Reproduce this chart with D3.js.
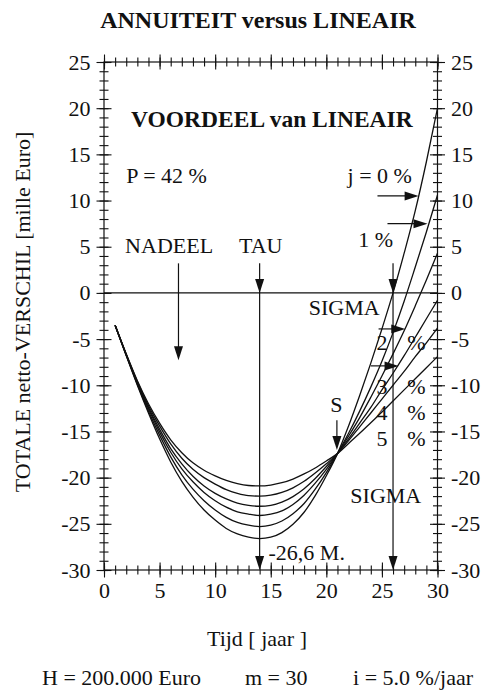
<!DOCTYPE html>
<html>
<head>
<meta charset="utf-8">
<script src="https://cdn.jsdelivr.net/npm/d3@7"></script>
<style>
  body { margin: 0; background: #fff; }
  svg text { font-family: "Liberation Serif", "DejaVu Serif", serif; fill: #111; }
</style>
</head>
<body>
<div id="chart"></div>
<script>
// tijd in jaren
const years = [1, 2, 3, 4, 5, 6, 7, 8, 9, 10, 11, 12, 13, 14, 15,
               16, 17, 18, 19, 20, 21, 22, 23, 24, 25, 26, 27, 28, 29, 30];

// totale netto-verschil [mille Euro] per inflatie j
const j0 = [-3.5, -6.8, -10.0, -13.0, -15.8, -18.3, -20.4, -22.1, -23.5, -24.6, -25.5, -26.1, -26.45, -26.6,
            -26.45, -25.95, -25.05, -23.75, -21.95, -19.8, -17.4,
            -14.4, -11.1, -7.6, -3.9, 0.0, 4.3, 8.9, 14.2, 20.0];
const j1 = [-3.5, -6.75, -9.9, -12.8, -15.4, -17.75, -19.7, -21.25, -22.5, -23.5, -24.3, -24.85, -25.15, -25.3,
            -25.15, -24.7, -23.9, -22.8, -21.25, -19.45, -17.4,
            -15.2, -12.8, -10.2, -7.4, -4.3, -0.9, 2.8, 6.6, 10.6];
const j2 = [-3.5, -6.7, -9.8, -12.55, -15.05, -17.25, -19.05, -20.45, -21.6, -22.5, -23.2, -23.7, -23.95, -24.1,
            -23.95, -23.6, -22.9, -21.9, -20.6, -19.1, -17.4,
            -15.5, -13.5, -11.3, -9.0, -6.6, -4.1, -1.4, 1.4, 4.3];
const j3 = [-3.5, -6.7, -9.7, -12.4, -14.75, -16.85, -18.5, -19.85, -20.9, -21.7, -22.3, -22.75, -23.0, -23.1,
            -23.0, -22.65, -22.05, -21.2, -20.1, -18.8, -17.4,
            -15.8, -14.1, -12.4, -10.5, -8.7, -6.8, -4.8, -2.8, -0.8];
const j4 = [-3.5, -6.65, -9.6, -12.2, -14.4, -16.35, -17.9, -19.1, -20.0, -20.7, -21.3, -21.7, -21.95, -22.0,
            -21.9, -21.6, -21.1, -20.4, -19.5, -18.5, -17.4,
            -16.0, -14.5, -13.0, -11.5, -10.0, -8.5, -6.9, -5.4, -3.8];
const j5 = [-3.5, -6.6, -9.5, -12.0, -14.1, -15.9, -17.3, -18.4, -19.2, -19.8, -20.3, -20.65, -20.85, -20.9,
            -20.8, -20.55, -20.15, -19.6, -18.95, -18.2, -17.4,
            -16.3, -15.2, -14.05, -12.9, -11.7, -10.5, -9.3, -8.1, -6.9];
const series = [j0, j1, j2, j3, j4, j5];

// as-indeling
const xTicks = [0, 5, 10, 15, 20, 25, 30];
const yTicks = [-30, -25, -20, -15, -10, -5, 0, 5, 10, 15, 20, 25];
const xTickLabels = ["0", "5", "10", "15", "20", "25", "30"];
const yTickLabels = ["-30", "-25", "-20", "-15", "-10", "-5", "0", "5", "10", "15", "20", "25"];

// pijlen (in data-eenheden)
const vArrows = [
  { x: 6.7, from: 3.2, to: -7.3, heads: [-7.3] },     // NADEEL
  { x: 14.0, from: 3.2, to: -30, heads: [0, -30] },   // TAU
  { x: 26.0, from: 3.2, to: -30, heads: [0, -30] },   // SIGMA
  { x: 20.95, from: -13.8, to: -17.0, heads: [-17.0] } // S
];
const hArrows = [
  { y: 10.5, from: 24.6, to: 28.3 },  // j = 0 %
  { y: 7.5, from: 25.5, to: 29.1 },   // 1 %
  { y: -3.9, from: 24.7, to: 27.1 },  // 2 %
  { y: -7.9, from: 24.0, to: 26.5 }   // 3 %
];

// teksten in het grafiekvlak
const notes = [
  { t: "VOORDEEL van LINEAIR", x: 15.1, y: 18.0, anchor: "middle", bold: true },
  { t: "P = 42 %", x: 2.0, y: 11.9, anchor: "start" },
  { t: "j = 0 %", x: 27.7, y: 11.9, anchor: "end" },
  { t: "1 %", x: 26.0, y: 5.0, anchor: "end" },
  { t: "NADEEL", x: 1.9, y: 4.3, anchor: "start" },
  { t: "TAU", x: 14.1, y: 4.3, anchor: "middle" },
  { t: "SIGMA", x: 24.8, y: -2.4, anchor: "end" },
  { t: "S", x: 20.9, y: -12.9, anchor: "middle" },
  { t: "SIGMA", x: 25.35, y: -22.8, anchor: "middle" },
  { t: "-26,6 M.", x: 14.8, y: -28.9, anchor: "start" }
];
const pctDigits = ["2", "3", "4", "5"];
const pctY = [-6.2, -10.9, -13.8, -16.6];

const W = 485, H = 691;
const svg = d3.select("#chart").append("svg")
    .attr("width", W)
    .attr("height", H);

const x = d3.scaleLinear().domain([0, 30]).range([104, 437.5]);
const y = d3.scaleLinear().domain([-30, 25]).range([570, 62]);

const ink = "#111";
const fs = 22;

// titel
svg.append("text")
    .attr("x", 258).attr("y", 28)
    .attr("text-anchor", "middle")
    .attr("font-weight", "bold")
    .attr("font-size", 24)
    .text("ANNUITEIT versus LINEAIR");

// kader
svg.append("rect")
    .attr("x", x(0)).attr("y", y(25))
    .attr("width", x(30) - x(0))
    .attr("height", y(-30) - y(25))
    .attr("fill", "none")
    .attr("stroke", ink)
    .attr("stroke-width", 1.2);

// assen: ticks lopen door de aslijn heen
function tickAxis(gen, values, size, tx, ty, labels, pad) {
  const g = svg.append("g")
      .attr("transform", `translate(${tx},${ty})`)
      .call(gen.tickValues(values).tickSize(size).tickPadding(pad || 3)
          .tickFormat(labels ? (d, i) => labels[i] : ""));
  g.select(".domain").remove();
  g.selectAll("line").attr("stroke", ink).attr("stroke-width", 1.1);
  g.selectAll("text")
      .attr("font-size", fs)
      .attr("fill", ink);
  return g;
}
const minorX = d3.range(0, 31, 1);
const minorY = d3.range(-30, 26, 1);

tickAxis(d3.axisLeft(y), minorY, 9, x(0) + 4.5, 0);
tickAxis(d3.axisLeft(y), yTicks, 15, x(0) + 7.5, 0, yTickLabels, 6);
tickAxis(d3.axisRight(y), minorY, 9, x(30) - 4.5, 0);
tickAxis(d3.axisRight(y), yTicks, 15, x(30) - 7.5, 0, yTickLabels, 6);
tickAxis(d3.axisTop(x), minorX, 9, 0, y(25) + 4.5);
tickAxis(d3.axisTop(x), xTicks, 15, 0, y(25) + 7.5);
tickAxis(d3.axisBottom(x), minorX, 9, 0, y(-30) - 4.5);
tickAxis(d3.axisBottom(x), xTicks, 15, 0, y(-30) - 7.5, xTickLabels, 5);

// nullijn
svg.append("line")
    .attr("x1", x(0)).attr("x2", x(30))
    .attr("y1", y(0)).attr("y2", y(0))
    .attr("stroke", ink).attr("stroke-width", 1.2);

// curves
const line = d3.line()
    .x((d, i) => x(years[i]))
    .y(d => y(d))
    .curve(d3.curveMonotoneX);

svg.selectAll("path.curve")
    .data(series)
    .enter()
    .append("path")
    .attr("class", "curve")
    .attr("d", line)
    .attr("fill", "none")
    .attr("stroke", ink)
    .attr("stroke-width", 1.3);

// pijlpunten
function head(px, py, dx, dy) {
  const L = 14, w = 4.5;
  const bx = px - dx * L, by = py - dy * L;
  const nx = -dy * w, ny = dx * w;
  svg.append("path")
      .attr("d", `M${px},${py}L${bx + nx},${by + ny}L${bx - nx},${by - ny}Z`)
      .attr("fill", ink);
}

vArrows.forEach(a => {
  svg.append("line")
      .attr("x1", x(a.x)).attr("x2", x(a.x))
      .attr("y1", y(a.from)).attr("y2", y(a.to) - 4)
      .attr("stroke", ink).attr("stroke-width", 1.2);
  a.heads.forEach(h => head(x(a.x), y(h), 0, 1));
});

hArrows.forEach(a => {
  svg.append("line")
      .attr("x1", x(a.from)).attr("x2", x(a.to) - 4)
      .attr("y1", y(a.y)).attr("y2", y(a.y))
      .attr("stroke", ink).attr("stroke-width", 1.2);
  head(x(a.to), y(a.y), 1, 0);
});

// teksten
svg.selectAll("text.note")
    .data(notes)
    .enter()
    .append("text")
    .attr("class", "note")
    .attr("x", d => x(d.x))
    .attr("y", d => y(d.y))
    .attr("text-anchor", d => d.anchor)
    .attr("font-size", d => d.bold ? 23.5 : fs)
    .attr("font-weight", d => d.bold ? "bold" : "normal")
    .text(d => d.t);

pctDigits.forEach((t, i) => {
  svg.append("text")
      .attr("x", x(25.0)).attr("y", y(pctY[i]))
      .attr("text-anchor", "middle")
      .attr("font-size", fs)
      .text(t);
  svg.append("text")
      .attr("x", x(28.1)).attr("y", y(pctY[i]))
      .attr("text-anchor", "middle")
      .attr("font-size", fs)
      .text("%");
});

// as-titels
svg.append("text")
    .attr("transform", "translate(30,312) rotate(-90)")
    .attr("text-anchor", "middle")
    .attr("font-size", fs)
    .text("TOTALE netto-VERSCHIL [mille Euro]");

svg.append("text")
    .attr("x", 257).attr("y", 646)
    .attr("text-anchor", "middle")
    .attr("font-size", fs)
    .text("Tijd [ jaar ]");

// parameters
svg.append("text").attr("x", 42).attr("y", 685).attr("font-size", fs).text("H = 200.000 Euro");
svg.append("text").attr("x", 245).attr("y", 685).attr("font-size", fs).text("m = 30");
svg.append("text").attr("x", 473).attr("y", 685).attr("text-anchor", "end").attr("font-size", fs).text("i = 5.0 %/jaar");
</script>
</body>
</html>
